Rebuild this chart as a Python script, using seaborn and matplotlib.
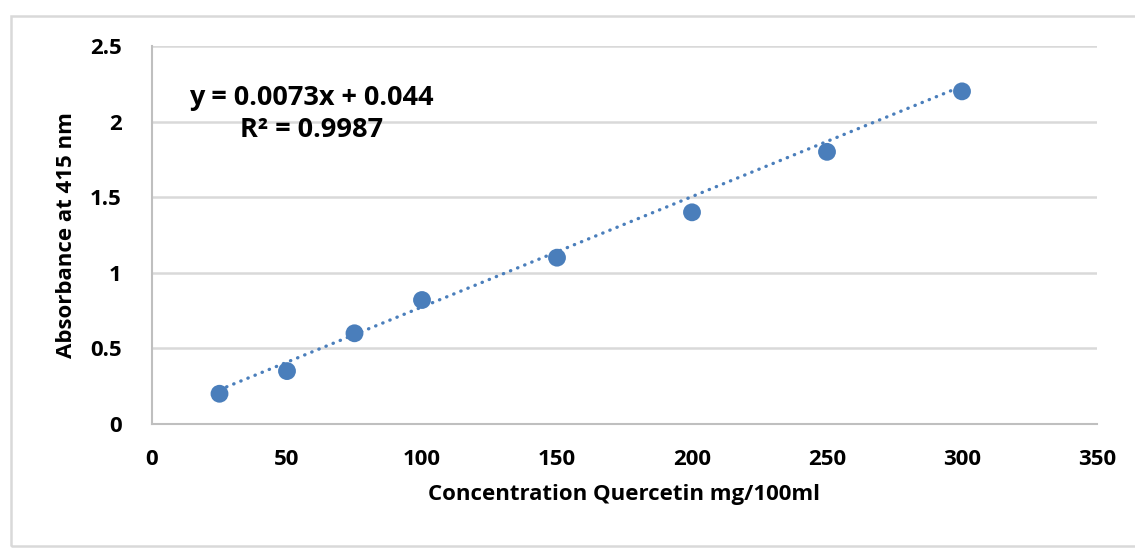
import numpy as np
import pandas as pd
import seaborn as sns
import matplotlib.pyplot as plt
from matplotlib.patches import Rectangle

# Calibration data: quercetin standard curve
concentration = [25, 50, 75, 100, 150, 200, 250, 300]
absorbance = [0.2, 0.35, 0.6, 0.82, 1.1, 1.4, 1.8, 2.2]

# Linear trendline coefficients and fit quality
slope = 0.0073
intercept = 0.044
r_squared = 0.9987

x_ticks = [0, 50, 100, 150, 200, 250, 300, 350]
y_ticks = [0, 0.5, 1, 1.5, 2, 2.5]
y_tick_labels = ["0", "0.5", "1", "1.5", "2", "2.5"]

df = pd.DataFrame({"conc": concentration, "abs": absorbance})

sns.set_theme(style="white")
plt.rcParams["font.family"] = ["Open Sans", "DejaVu Sans"]
plt.rcParams["font.weight"] = "bold"
plt.rcParams["text.color"] = "black"
plt.rcParams["axes.labelcolor"] = "black"

blue = "#4a7ebb"
grid_grey = "#d9d9d9"

fig = plt.figure(figsize=(11.35, 5.5), dpi=100)
ax = fig.add_axes([152 / 1135, 1 - 424 / 550, 945 / 1135, 378 / 550])

# Outer chart frame
fig.patches.append(Rectangle((11 / 1135, 1 - 546 / 550), 1.2, 530 / 550,
                             transform=fig.transFigure, fill=False,
                             edgecolor=grid_grey, linewidth=1.8, zorder=0))

# Dotted linear trendline across the data range
xs = np.array([min(concentration), max(concentration)])
ax.plot(xs, slope * xs + intercept, color=blue, linewidth=2.4,
        linestyle=(0, (0.1, 2.2)), dash_capstyle="round", zorder=2)

sns.scatterplot(data=df, x="conc", y="abs", ax=ax, color=blue, s=165,
                edgecolor="none", zorder=3)

ax.set_xlim(0, 350)
ax.set_ylim(0, 2.5)
ax.set_xticks(x_ticks)
ax.set_yticks(y_ticks)
ax.set_xticklabels([str(v) for v in x_ticks], fontweight="bold")
ax.set_yticklabels(y_tick_labels, fontweight="bold")
ax.tick_params(axis="both", length=0, labelsize=16, colors="black")
ax.tick_params(axis="x", pad=18)
ax.tick_params(axis="y", pad=22)

ax.yaxis.grid(True, color=grid_grey, linewidth=1.8)
ax.xaxis.grid(False)
ax.set_axisbelow(True)
for side in ["top", "right"]:
    ax.spines[side].set_visible(False)
for side in ["left", "bottom"]:
    ax.spines[side].set_color("#bfbfbf")
    ax.spines[side].set_linewidth(1.5)

ax.set_xlabel("Concentration Quercetin mg/100ml", fontsize=16,
              fontweight="bold", labelpad=10)
ax.set_ylabel("Absorbance at 415 nm", fontsize=16, fontweight="bold",
              labelpad=9)

ax.text(0.169, 0.819, f"y = {slope}x + {intercept}\nR² = {r_squared}",
        transform=ax.transAxes, ha="center", va="center", fontsize=19.5,
        fontweight="bold", linespacing=1.3)

fig.savefig("out.png", dpi=100)
